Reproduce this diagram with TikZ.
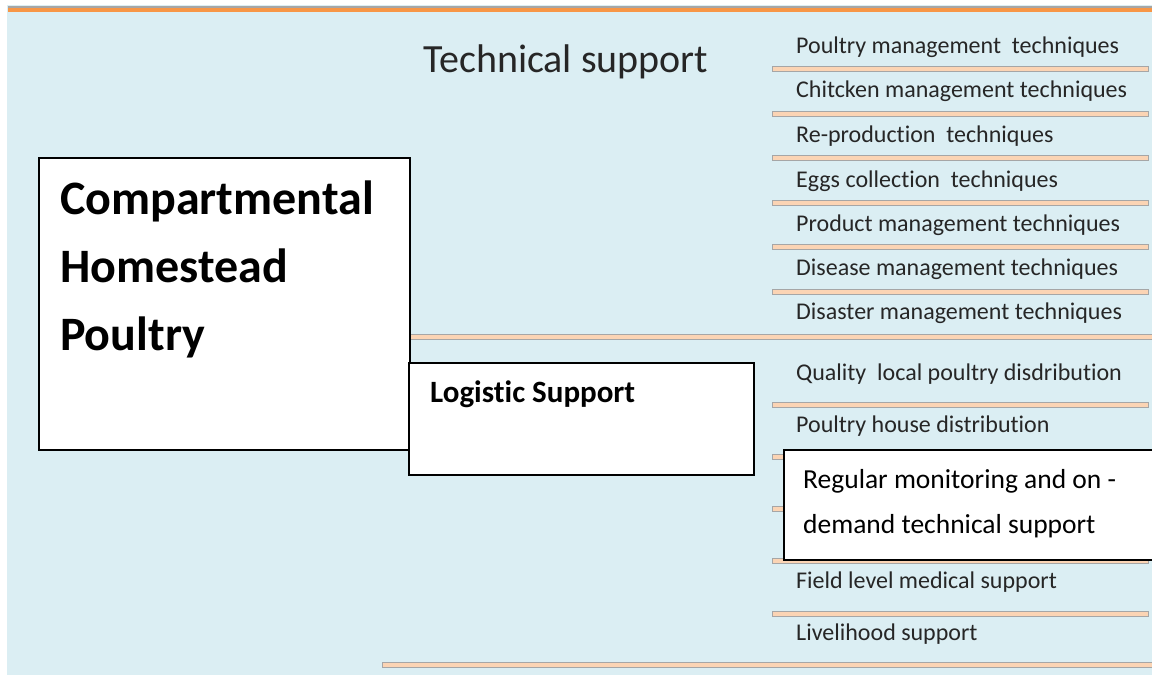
\documentclass[tikz,border=0pt]{standalone}
\usepackage{fontspec}
\setmainfont{Carlito}[Ligatures=NoCommon]
\definecolor{bgblue}{HTML}{DBEEF3}
\definecolor{peach}{HTML}{FBD4B4}
\definecolor{barline}{HTML}{A6A6A6}
\definecolor{topline}{HTML}{F79646}
\definecolor{itemtext}{HTML}{262626}
\tikzset{
  bar/.style={fill=peach, draw=barline, line width=0.8pt},
  box/.style={draw=black, line width=1.6pt, fill=white, inner sep=0pt, anchor=north west},
  item/.style={anchor=base west, inner sep=0pt, font=\fontsize{24}{28}\selectfont, text=itemtext},
  bigtxt/.style={anchor=base west, inner sep=0pt, font=\fontsize{48}{54}\selectfont\bfseries},
  montxt/.style={anchor=base west, inner sep=0pt, font=\fontsize{27.5}{32}\selectfont},
}
\begin{document}
\begin{tikzpicture}[x=1pt,y=-1pt]
\useasboundingbox (0,0) rectangle (1152,675);
\fill[white] (0,0) rectangle (1152,675);
\fill[bgblue] (7,5) rectangle (1152,675);
\fill[barline] (8,5.5) rectangle (1152,7.5);
\fill[topline] (8,7.5) rectangle (1152,12);

% title
\node[anchor=base west, inner sep=0pt, font=\fontsize{40}{46}\selectfont, text=itemtext] (tech) at (423,72) {Technical support};

% bars
\foreach \y in {69,114,158,203,247,292,405,561,614} {
  \draw[bar] (772,\y-2.5) rectangle (1148,\y+2.5);
}
\draw[bar] (410,334.5) rectangle (1152,339.5);
\draw[bar] (772,454.5) rectangle (790,459.5);
\draw[bar] (772,506.5) rectangle (790,511.5);
\draw[bar] (382,662.5) rectangle (1152,667.5);

% technical items
\node[item] (t1) at (796,53) {Poultry management\ \ techniques};
\node[item] (t2) at (796,97) {Chitcken management techniques};
\node[item] (t3) at (796,142) {Re-production\ \ techniques};
\node[item] (t4) at (796,187) {Eggs collection\ \ techniques};
\node[item] (t5) at (796,231) {Product management techniques};
\node[item] (t6) at (796,275) {Disease management techniques};
\node[item] (t7) at (796,319) {Disaster management techniques};

% logistic items
\node[item] (l1) at (796,380) {Quality\ \ local poultry disdribution};
\node[item] (l2) at (796,432) {Poultry house distribution};
\node[item] (l3) at (796,588) {Field level medical support};
\node[item] (l4) at (796,640) {Livelihood support};

% main box
\node[box, minimum width=371pt, minimum height=292pt] (comp) at (38,157) {};
\node[bigtxt] (c1) at (60,214) {Compartmental};
\node[bigtxt] (c2) at (60,282) {Homestead};
\node[bigtxt] (c3) at (60,350) {Poultry};

% logistic box
\node[box, minimum width=345pt, minimum height=112pt] (logi) at (408,362) {};
\node[anchor=base west, inner sep=0pt, font=\fontsize{31}{36}\selectfont\bfseries] (logt) at (430,402) {Logistic Support};

% monitoring box
\node[box, minimum width=375pt, minimum height=110pt] (mon) at (783,449) {};
\node[montxt] (m1) at (803,488) {Regular monitoring and on -};
\node[montxt] (m2) at (803,533) {demand technical support};
\end{tikzpicture}
\end{document}
